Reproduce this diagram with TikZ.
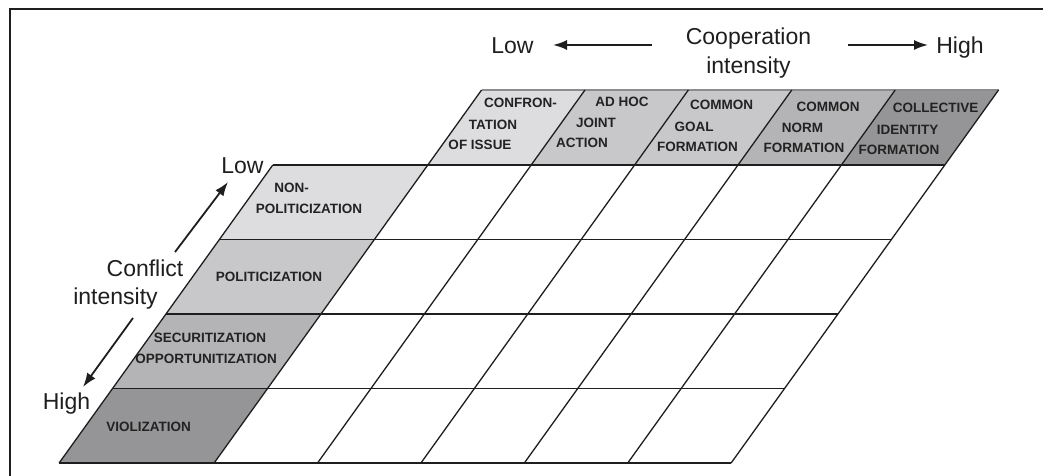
\documentclass[tikz,border=0pt]{standalone}
\usepackage{fontspec}
\setmainfont{Liberation Sans}
\usetikzlibrary{arrows.meta}
\definecolor{gA}{HTML}{DDDDDF}
\definecolor{gB}{HTML}{C8C8CA}
\definecolor{gC}{HTML}{B4B4B6}
\definecolor{gD}{HTML}{959597}
\definecolor{txt}{HTML}{222222}
\definecolor{ln}{HTML}{1E1E1E}
\begin{document}
\begin{tikzpicture}[x=1bp,y=-1bp,
  axislbl/.style={font=\fontsize{23bp}{27bp}\selectfont, text=ln, inner sep=0pt, anchor=base},
  celllbl/.style={font=\bfseries\fontsize{13.5bp}{15bp}\selectfont, text=txt, inner sep=0pt},
  arr/.style={line width=1.8bp, draw=ln, -{Latex[length=14bp,width=10bp]}},
  gridline/.style={line width=1.3bp, draw=ln},
  rowline/.style={line width=1.9bp, draw=ln}]
\useasboundingbox (0,0) rectangle (1043,476);
% frame (cut off at right and bottom)
\begin{scope}
\clip (0,0) rectangle (1043,476);
\draw[line width=2bp, draw=ln] (10,9.3) rectangle (1080,520);
\end{scope}
% grid parameters
\def\sl{0.717}
% row label fills
\foreach \ya/\yb/\col in {165/239.5/gA, 239.5/314/gB, 314/388.5/gC, 388.5/463/gD}{
  \fill[\col] ({272.8-\sl*(\ya-165)},\ya) -- ({427.8-\sl*(\ya-165)},\ya)
     -- ({427.8-\sl*(\yb-165)},\yb) -- ({272.8-\sl*(\yb-165)},\yb) -- cycle;
}
% header fills
\foreach \ua/\ub/\col in {427.8/531.2/gA, 531.2/634.6/gB, 634.6/738.0/gB, 738.0/841.4/gC, 841.4/944.8/gD}{
  \fill[\col] (\ua,165) -- (\ub,165) -- ({\ub+\sl*75},90) -- ({\ua+\sl*75},90) -- cycle;
}
% header top line
\draw[line width=1.3bp, draw=black!45] ({427.8+\sl*75},90) -- ({944.8+\sl*75},90);
% header slanted lines
\foreach \u in {427.8,531.2,634.6,738.0,841.4,944.8}{
  \draw[gridline] (\u,165) -- ({\u+\sl*75},90);
}
% column lines
\foreach \u in {272.8,427.8,531.2,634.6,738.0,841.4,944.8}{
  \draw[gridline] (\u,165) -- ({\u-\sl*298},463);
}
% row lines
\foreach \y in {165,239.5,314,388.5,463}{
  \draw[rowline] ({272.8-\sl*(\y-165)},\y) -- ({944.8-\sl*(\y-165)},\y);
}
% header labels
\node[celllbl] (h1a) at (520.5,103) {CONFRON-};
\node[celllbl] (h1b) at (493,125) {TATION};
\node[celllbl] (h1c) at (480,145) {OF ISSUE};
\node[celllbl] (h2a) at (622,101.7) {AD HOC};
\node[celllbl] (h2b) at (596,123) {JOINT};
\node[celllbl] (h2c) at (582,143.3) {ACTION};
\node[celllbl] (h3a) at (721.5,105) {COMMON};
\node[celllbl] (h3b) at (694,126.7) {GOAL};
\node[celllbl] (h3c) at (697.5,146.7) {FORMATION};
\node[celllbl] (h4a) at (828,106.7) {COMMON};
\node[celllbl] (h4b) at (802.5,128) {NORM};
\node[celllbl] (h4c) at (804,148) {FORMATION};
\node[celllbl] (h5a) at (935.5,108) {COLLECTIVE};
\node[celllbl] (h5b) at (907.5,130) {IDENTITY};
\node[celllbl] (h5c) at (899,150) {FORMATION};
% row labels
\node[celllbl] (r1a) at (291.5,188.3) {NON-};
\node[celllbl] (r1b) at (309,209.3) {POLITICIZATION};
\node[celllbl] (r2) at (269,276.7) {POLITICIZATION};
\node[celllbl] (r3a) at (210,338.3) {SECURITIZATION};
\node[celllbl] (r3b) at (206,359.3) {OPPORTUNITIZATION};
\node[celllbl] (r4) at (148.5,426.7) {VIOLIZATION};
% axis labels
\node[axislbl] (clow) at (512.5,53.3) {Low};
\node[axislbl] (ccoop) at (748.5,45) {Cooperation};
\node[axislbl] (cint) at (748.5,73.3) {intensity};
\node[axislbl] (chigh) at (960,53.3) {High};
\node[axislbl] (flow) at (242.5,174) {Low};
\node[axislbl] (fconf) at (145,276.7) {Conflict};
\node[axislbl] (fint) at (115.5,305) {intensity};
\node[axislbl] (fhigh) at (66.5,410) {High};
% arrows
\coordinate (ca1) at (652,45);
\coordinate (ca2) at (553,45);
\coordinate (cb1) at (848,45);
\coordinate (cb2) at (928,45);
\coordinate (fa1) at (175,252);
\coordinate (fa2) at (228,182);
\coordinate (fb1) at (133,318);
\coordinate (fb2) at (83,387);
\draw[arr] (ca1) -- (ca2);
\draw[arr] (cb1) -- (cb2);
\draw[arr] (fa1) -- (fa2);
\draw[arr] (fb1) -- (fb2);
\end{tikzpicture}
\end{document}
